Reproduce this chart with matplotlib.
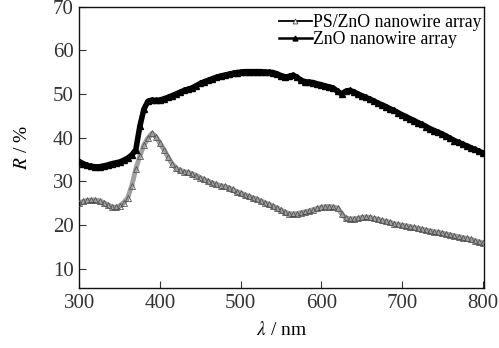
import matplotlib
matplotlib.use("Agg")
import matplotlib.pyplot as plt
from matplotlib.lines import Line2D
import matplotlib.transforms as mtransforms

wavelength = list(range(300, 801, 5))

zno = [34.5, 34.0, 33.6, 33.4, 33.3, 33.3, 33.5, 33.7, 34.0, 34.2,
       34.4, 34.8, 35.3, 36.0, 37.2, 42.6, 46.5, 48.3, 48.6, 48.5,
       48.6, 48.9, 49.2, 49.6, 50.0, 50.4, 50.8, 51.1, 51.4, 51.9,
       52.4, 52.8, 53.1, 53.5, 53.8, 54.1, 54.3, 54.5, 54.7, 54.9,
       55.0, 55.1, 55.1, 55.1, 55.1, 55.1, 55.0, 55.0, 54.9, 54.6,
       54.2, 53.9, 54.0, 54.3, 53.8, 53.1, 52.8, 52.7, 52.6, 52.3,
       52.1, 51.8, 51.6, 51.3, 50.6, 50.0, 50.6, 50.8, 50.5, 50.0,
       49.6, 49.2, 48.8, 48.4, 47.9, 47.5, 47.1, 46.6, 46.2, 45.7,
       45.2, 44.8, 44.3, 43.9, 43.4, 43.0, 42.5, 42.0, 41.6, 41.2,
       40.8, 40.3, 39.8, 39.3, 38.9, 38.5, 38.1, 37.7, 37.3, 36.9,
       36.5]

ps_zno = [25.0, 25.4, 25.6, 25.7, 25.7, 25.5, 25.1, 24.6, 24.2, 24.0,
          24.4, 25.1, 26.2, 29.0, 32.8, 35.8, 38.3, 39.9, 41.0, 40.2,
          38.7, 37.2, 35.5, 34.0, 33.0, 32.5, 32.2, 32.0, 31.7, 31.3,
          30.8, 30.4, 30.0, 29.6, 29.3, 29.0, 28.8, 28.5, 28.1, 27.6,
          27.3, 26.9, 26.6, 26.2, 25.9, 25.5, 25.1, 24.7, 24.3, 23.9,
          23.4, 22.9, 22.6, 22.5, 22.6, 22.8, 23.0, 23.2, 23.5, 23.8,
          24.0, 24.2, 24.2, 24.1, 23.9, 22.6, 21.6, 21.4, 21.4, 21.5,
          21.7, 21.8, 21.7, 21.5, 21.3, 21.0, 20.8, 20.6, 20.3, 20.1,
          19.9, 19.8, 19.6, 19.4, 19.2, 19.0, 18.8, 18.6, 18.4, 18.3,
          18.1, 17.9, 17.7, 17.5, 17.3, 17.1, 16.9, 16.7, 16.4, 16.1,
          15.9]

x_ticks = [300, 400, 500, 600, 700, 800]
y_ticks = [10, 20, 30, 40, 50, 60, 70]
labels = ["PS/ZnO nanowire array", "ZnO nanowire array"]

plt.rcParams['font.family'] = ['Liberation Serif', 'DejaVu Serif']
plt.rcParams['mathtext.fontset'] = 'stix'

fig = plt.figure(figsize=(4.99, 3.48), dpi=100)
ax = fig.add_axes([0.159, 0.172, 0.810, 0.809])

# PS/ZnO: dark lower edge, gray hatched band of open triangles
shift_down = mtransforms.offset_copy(ax.transData, fig=fig, x=0, y=-1.5, units='points')
ax.plot(wavelength, ps_zno, color='black', lw=1.3, transform=shift_down, zorder=2)
ax.plot(wavelength, ps_zno, color='#a0a0a0', lw=3.5, zorder=2.5)
ax.plot(wavelength, ps_zno, ls='none', marker='^', markersize=5,
        markerfacecolor='none', markeredgecolor='#555555',
        markeredgewidth=0.6, zorder=3)

# ZnO: solid black band of filled triangles
ax.plot(wavelength, zno, color='black', lw=4.0, marker='^', markersize=5,
        markerfacecolor='black', markeredgecolor='black', zorder=3)

ax.set_xlim(300, 801)
ax.set_ylim(5.5, 70)
ax.set_xticks(x_ticks)
ax.set_yticks(y_ticks)
ax.tick_params(direction='in', length=5, width=0.8, labelsize=15,
               colors='#333333', top=False, right=False, pad=4)
for s in ax.spines.values():
    s.set_linewidth(1.0)
    s.set_color('#111111')

ax.set_xlabel(r'$\lambda$ / nm', fontsize=14, labelpad=6)
ax.set_ylabel(r'$R$ / %', fontsize=14, labelpad=16)

handles = [
    Line2D([], [], color='black', lw=1.3, marker='^', markersize=3.5,
           markerfacecolor='white', markeredgecolor='#444444', markeredgewidth=0.6),
    Line2D([], [], color='black', lw=1.8, marker='^', markersize=3.5,
           markerfacecolor='black', markeredgecolor='black'),
]
ax.legend(handles, labels, loc='upper right', bbox_to_anchor=(1.013, 1.0),
          frameon=False, fontsize=12.8, handlelength=1.9, handletextpad=0.05,
          labelspacing=0.0, borderaxespad=0.0)

fig.savefig('out.png', dpi=100)
